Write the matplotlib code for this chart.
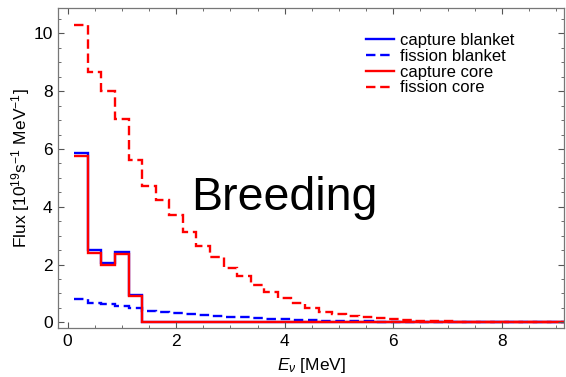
import numpy as np
import matplotlib
matplotlib.use('Agg')
import matplotlib.pyplot as plt
from matplotlib.ticker import MultipleLocator

plt.rcParams['font.family'] = ['Liberation Sans', 'DejaVu Sans']
plt.rcParams['mathtext.fontset'] = 'custom'
plt.rcParams['mathtext.rm'] = 'Liberation Sans'
plt.rcParams['mathtext.it'] = 'Liberation Sans:italic'

# energy bins, 0.25 MeV wide
bin_edges = 0.125 + 0.25 * np.arange(38)

capture_blanket = [5.87, 2.50, 2.04, 2.44, 0.945] + [0.0] * 32
capture_core = [5.75, 2.41, 1.98, 2.35, 0.92] + [0.0] * 32
fission_blanket = [0.80, 0.68, 0.63, 0.57, 0.48, 0.40, 0.36, 0.32, 0.29, 0.25,
                   0.22, 0.19, 0.17, 0.14, 0.12, 0.10, 0.085, 0.07, 0.06, 0.05,
                   0.04, 0.03, 0.025, 0.02, 0.015, 0.011, 0.008, 0.006, 0.004,
                   0.003, 0.002, 0.001, 0.001, 0.0, 0.0, 0.0, 0.0]
fission_core = [10.29, 8.66, 7.99, 7.05, 5.62, 4.72, 4.23, 3.71, 3.14, 2.64,
                2.25, 1.89, 1.60, 1.29, 1.04, 0.83, 0.66, 0.49, 0.37, 0.30,
                0.23, 0.18, 0.15, 0.11, 0.08, 0.06, 0.045, 0.035, 0.025, 0.018,
                0.012, 0.008, 0.005, 0.003, 0.002, 0.001, 0.0]

fig = plt.figure(figsize=(5.66, 3.77), dpi=100)
ax = fig.add_axes([0.103, 0.129, 0.894, 0.849])

lw = 1.7
ax.stairs(capture_blanket, bin_edges, baseline=None, color='#0000ff', lw=lw,
          label='capture blanket')
ax.stairs(fission_blanket, bin_edges, baseline=None, color='#0000ff', lw=lw,
          ls=(0, (4, 2)), label='fission blanket')
ax.stairs(capture_core, bin_edges, baseline=None, color='#ff0000', lw=lw,
          label='capture core')
ax.stairs(fission_core, bin_edges, baseline=None, color='#ff0000', lw=lw,
          ls=(0, (4, 2)), label='fission core')

ax.set_xlim(-0.17, 9.15)
ax.set_ylim(-0.21, 10.87)

ax.xaxis.set_major_locator(MultipleLocator(2))
ax.xaxis.set_minor_locator(MultipleLocator(0.5))
ax.yaxis.set_major_locator(MultipleLocator(2))
ax.yaxis.set_minor_locator(MultipleLocator(0.5))
ax.tick_params(which='both', direction='in', top=True, right=True,
               color='#555555', labelsize=12.5, pad=4)
ax.tick_params(which='major', length=4.5, width=0.8)
ax.tick_params(which='minor', length=2.5, width=0.6)
for s in ax.spines.values():
    s.set_color('#777777')
    s.set_linewidth(0.9)

ax.set_xlabel(r'$E_\nu$ [MeV]', fontsize=12.5, labelpad=5)
ax.set_ylabel(r'Flux [10$^{19}$s$^{-1}$ MeV$^{-1}$]', fontsize=12.5, labelpad=1)

ax.text(2.27, 3.89, 'Breeding', fontsize=33.5, ha='left', va='baseline')

ax.legend(loc='upper left', bbox_to_anchor=(366 / 566, 1 - 33 / 377),
          bbox_transform=fig.transFigure, frameon=False, fontsize=12,
          borderpad=0, borderaxespad=0, labelspacing=0.05,
          handlelength=1.7, handletextpad=0.35)

fig.savefig('out.png', dpi=100)
